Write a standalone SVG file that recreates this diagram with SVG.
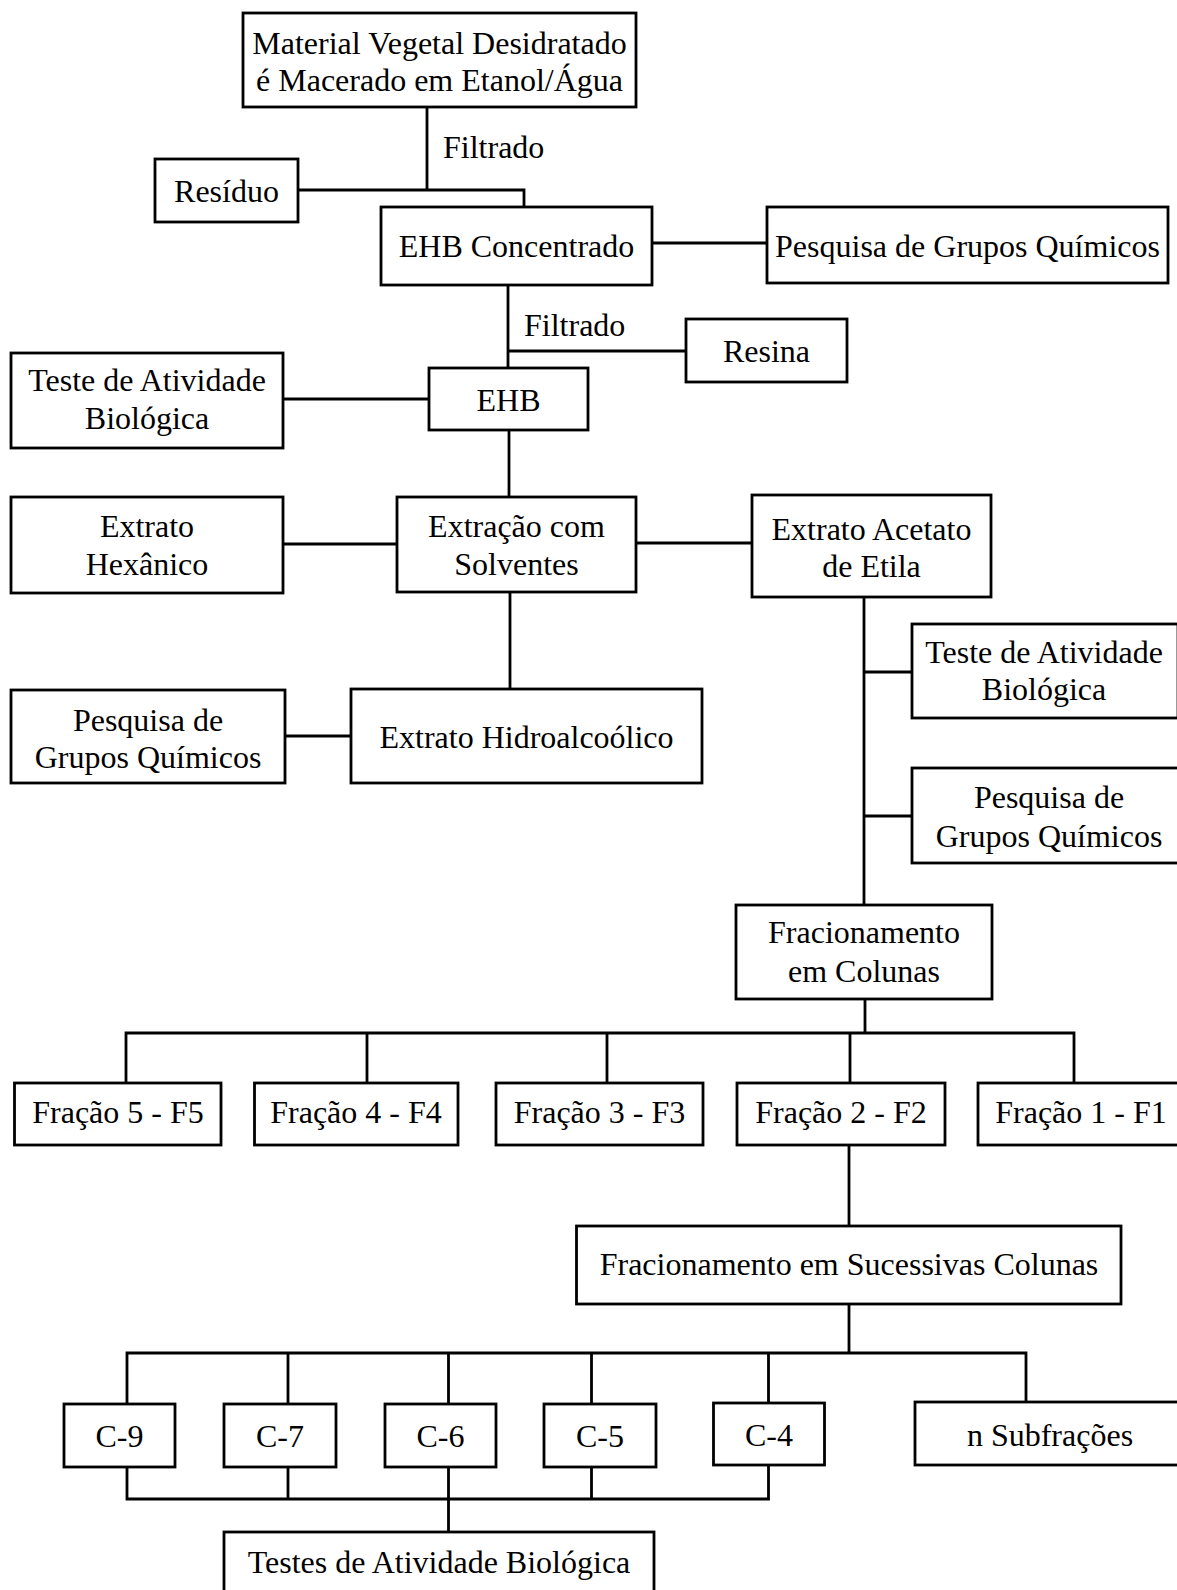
<svg xmlns="http://www.w3.org/2000/svg" width="1177" height="1590" viewBox="0 0 1177 1590">
  <style>
    rect { fill: #fff; stroke: #000; stroke-width: 2.8; }
    text { font-family: "Liberation Serif", "Times New Roman", serif; font-size: 32px; fill: #000; text-anchor: middle; }
    text.left { text-anchor: start; }
    #connectors path { fill: none; stroke: #000; stroke-width: 2.8; }
  </style>
  <rect x="0" y="0" width="1177" height="1590" style="fill:#fff;stroke:none"/>

  <g id="connectors">
    <path d="M427 107 V190 M298 190 H524 V207"/>
    <path d="M652 243 H767"/>
    <path d="M508 285 V368 M508 351 H686"/>
    <path d="M283 399 H429"/>
    <path d="M509 430 V497"/>
    <path d="M283 544 H397 M636 543 H752"/>
    <path d="M510 592 V689"/>
    <path d="M285 736 H351"/>
    <path d="M864 597 V905 M864 672 H912 M864 816 H912"/>
    <path d="M865 999 V1033 M126 1083 V1033 H1074 V1083 M367 1033 V1083 M607 1033 V1083 M850 1033 V1083"/>
    <path d="M849 1145 V1226"/>
    <path d="M849 1304 V1353 M127 1404 V1353 H1026 V1402 M288 1353 V1404 M448.5 1353 V1404 M591.5 1353 V1404 M768.5 1353 V1404"/>
    <path d="M127 1467 V1499 H768.5 V1465 M288 1467 V1499 M591.5 1467 V1499 M448.5 1467 V1532"/>
    <text class="left" x="443" y="158">Filtrado</text>
    <text class="left" x="524" y="336">Filtrado</text>
  </g>

  <g id="material">
    <rect x="243" y="13" width="393" height="94"/>
    <text x="439.5" y="54">Material Vegetal Desidratado</text>
    <text x="439.5" y="91">é Macerado em Etanol/Água</text>
  </g>
  <g id="residuo">
    <rect x="155" y="159" width="143" height="63"/>
    <text x="226.5" y="202">Resíduo</text>
  </g>
  <g id="ehb-concentrado">
    <rect x="381" y="207" width="271" height="78"/>
    <text x="516.5" y="257">EHB Concentrado</text>
  </g>
  <g id="pesquisa-1">
    <rect x="767" y="207" width="401" height="76"/>
    <text x="967.5" y="257">Pesquisa de Grupos Químicos</text>
  </g>
  <g id="resina">
    <rect x="686" y="319" width="161" height="63"/>
    <text x="766.5" y="362">Resina</text>
  </g>
  <g id="ehb">
    <rect x="429" y="368" width="159" height="62"/>
    <text x="508.5" y="411">EHB</text>
  </g>
  <g id="teste-1">
    <rect x="11" y="353" width="272" height="95"/>
    <text x="147" y="391">Teste de Atividade</text>
    <text x="147" y="429">Biológica</text>
  </g>
  <g id="hexanico">
    <rect x="11" y="497" width="272" height="96"/>
    <text x="147" y="537">Extrato</text>
    <text x="147" y="575">Hexânico</text>
  </g>
  <g id="extracao">
    <rect x="397" y="497" width="239" height="95"/>
    <text x="516.5" y="537">Extração com</text>
    <text x="516.5" y="575">Solventes</text>
  </g>
  <g id="acetato">
    <rect x="752" y="495" width="239" height="102"/>
    <text x="871.5" y="540">Extrato Acetato</text>
    <text x="871.5" y="577">de Etila</text>
  </g>
  <g id="pesquisa-2">
    <rect x="11" y="690" width="274" height="93"/>
    <text x="148" y="731">Pesquisa de</text>
    <text x="148" y="768">Grupos Químicos</text>
  </g>
  <g id="hidroalcoolico">
    <rect x="351" y="689" width="351" height="94"/>
    <text x="526.5" y="748">Extrato Hidroalcoólico</text>
  </g>
  <g id="teste-2">
    <rect x="912" y="624" width="266" height="94"/>
    <text x="1044" y="663">Teste de Atividade</text>
    <text x="1044" y="700">Biológica</text>
  </g>
  <g id="pesquisa-3">
    <rect x="912" y="768" width="274" height="95"/>
    <text x="1049" y="808">Pesquisa de</text>
    <text x="1049" y="847">Grupos Químicos</text>
  </g>
  <g id="fracionamento">
    <rect x="736" y="905" width="256" height="94"/>
    <text x="864" y="943">Fracionamento</text>
    <text x="864" y="982">em Colunas</text>
  </g>
  <g id="f5">
    <rect x="14.5" y="1083" width="206.5" height="62"/>
    <text x="118" y="1123">Fração 5 - F5</text>
  </g>
  <g id="f4">
    <rect x="254.5" y="1083" width="203.5" height="62"/>
    <text x="356" y="1123">Fração 4 - F4</text>
  </g>
  <g id="f3">
    <rect x="496" y="1083" width="207" height="62"/>
    <text x="599.5" y="1123">Fração 3 - F3</text>
  </g>
  <g id="f2">
    <rect x="737" y="1083" width="208" height="62"/>
    <text x="841" y="1123">Fração 2 - F2</text>
  </g>
  <g id="f1">
    <rect x="978" y="1083" width="207" height="62"/>
    <text x="1081" y="1123">Fração 1 - F1</text>
  </g>
  <g id="sucessivas">
    <rect x="576.5" y="1226" width="544.5" height="78"/>
    <text x="849" y="1275">Fracionamento em Sucessivas Colunas</text>
  </g>
  <g id="c9">
    <rect x="64" y="1404" width="111" height="63"/>
    <text x="119.5" y="1447">C-9</text>
  </g>
  <g id="c7">
    <rect x="224" y="1404" width="112" height="63"/>
    <text x="280" y="1447">C-7</text>
  </g>
  <g id="c6">
    <rect x="385" y="1404" width="111" height="63"/>
    <text x="440.5" y="1447">C-6</text>
  </g>
  <g id="c5">
    <rect x="544" y="1404" width="112" height="63"/>
    <text x="600" y="1447">C-5</text>
  </g>
  <g id="c4">
    <rect x="713.5" y="1403" width="111" height="62"/>
    <text x="769" y="1446">C-4</text>
  </g>
  <g id="subfracoes">
    <rect x="915" y="1402" width="270" height="63"/>
    <text x="1050" y="1446">n Subfrações</text>
  </g>
  <g id="testes">
    <rect x="224" y="1532" width="430" height="70"/>
    <text x="439" y="1573">Testes de Atividade Biológica</text>
  </g>
</svg>
